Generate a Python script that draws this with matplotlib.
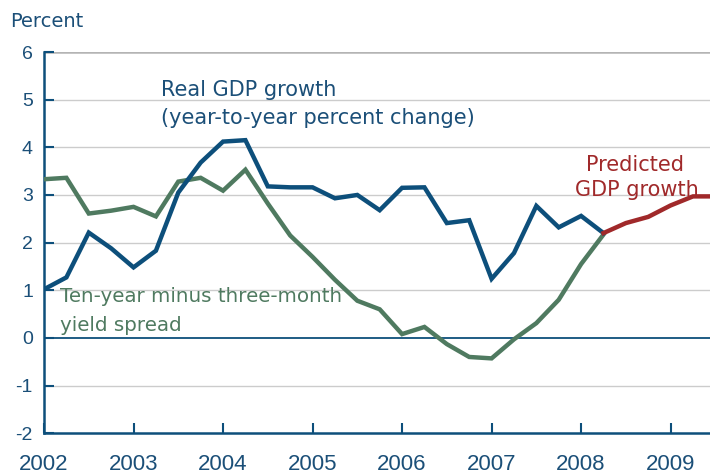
import matplotlib.pyplot as plt

plt.rcParams['font.family'] = ['Liberation Sans', 'DejaVu Sans']

# Quarterly observations, 2002Q1 .. 2008Q2
quarters = [2002 + 0.25 * i for i in range(26)]
gdp_growth = [1.02, 1.27, 2.21, 1.88, 1.48, 1.83, 3.05, 3.68, 4.12, 4.15,
              3.18, 3.16, 3.16, 2.93, 3.00, 2.68, 3.15, 3.16, 2.41, 2.47,
              1.24, 1.78, 2.77, 2.32, 2.56, 2.20]
yield_spread = [3.33, 3.36, 2.61, 2.67, 2.75, 2.55, 3.28, 3.36, 3.09, 3.53,
                2.82, 2.15, 1.70, 1.22, 0.78, 0.60, 0.08, 0.23, -0.13, -0.40,
                -0.43, -0.03, 0.31, 0.80, 1.55, 2.17]

# Prediction, 2008Q2 .. 2009Q3
pred_quarters = [2008.25, 2008.5, 2008.75, 2009.0, 2009.25, 2009.5]
pred_growth = [2.20, 2.41, 2.54, 2.78, 2.97, 2.97]

year_ticks = [2002, 2003, 2004, 2005, 2006, 2007, 2008, 2009]
y_ticks = [-2, -1, 0, 1, 2, 3, 4, 5, 6]

blue = '#0d4f7b'
green = '#4f7a60'
red = '#a0292a'
label_col = '#1b4f78'
note_font = ['DejaVu Sans']

fig = plt.figure(figsize=(7.1, 4.75), dpi=100)
ax = fig.add_axes([0.062, 0.088, 0.938, 0.8025])

# Grid
for y in y_ticks[1:-1]:
    if y == 0:
        continue
    ax.axhline(y, color='#cccccc', linewidth=1.0, zorder=0)
ax.axhline(6, color='#b4b4b4', linewidth=1.8, zorder=0)
ax.axhline(0, color=blue, linewidth=1.3, zorder=1)

ax.plot(quarters, yield_spread, color=green, linewidth=3.2, zorder=3,
        solid_joinstyle='miter')
ax.plot(quarters, gdp_growth, color=blue, linewidth=3.2, zorder=4,
        solid_joinstyle='miter')
ax.plot(pred_quarters, pred_growth, color=red, linewidth=3.2, zorder=5,
        solid_joinstyle='miter')

ax.set_xlim(2002, 2009.44)
ax.set_ylim(-2, 6)
ax.set_xticks(year_ticks)
ax.set_xticklabels([str(y) for y in year_ticks])
ax.set_yticks(y_ticks)
ax.set_yticklabels([str(y) for y in y_ticks])

for side in ['top', 'right']:
    ax.spines[side].set_visible(False)
for side in ['left', 'bottom']:
    ax.spines[side].set_color(blue)
    ax.spines[side].set_linewidth(1.8)

ax.tick_params(axis='x', direction='in', length=7, width=1.5, color=blue,
               labelsize=16, labelcolor=label_col, pad=15)
ax.tick_params(axis='y', direction='in', length=7, width=1.5, color=blue,
               labelsize=14, labelcolor=label_col, pad=8)

fig.text(0.014, 0.955, 'Percent', fontsize=14, color=label_col,
         ha='left', va='center', family=note_font)

ax.text(2003.31, 5.2, 'Real GDP growth', fontsize=15, color=label_col,
        ha='left', va='center', family=note_font)
ax.text(2003.31, 4.62, '(year-to-year percent change)', fontsize=15,
        color=label_col, ha='left', va='center', family=note_font)
ax.text(2008.6, 3.63, 'Predicted', fontsize=15, color=red,
        ha='center', va='center', family=note_font)
ax.text(2008.62, 3.1, 'GDP growth', fontsize=15, color=red,
        ha='center', va='center', family=note_font)
ax.text(2002.18, 0.86, 'Ten-year minus three-month', fontsize=14.3,
        color=green, ha='left', va='center', family=note_font)
ax.text(2002.18, 0.26, 'yield spread', fontsize=14.3, color=green,
        ha='left', va='center', family=note_font)

fig.savefig('out.png', dpi=100)
